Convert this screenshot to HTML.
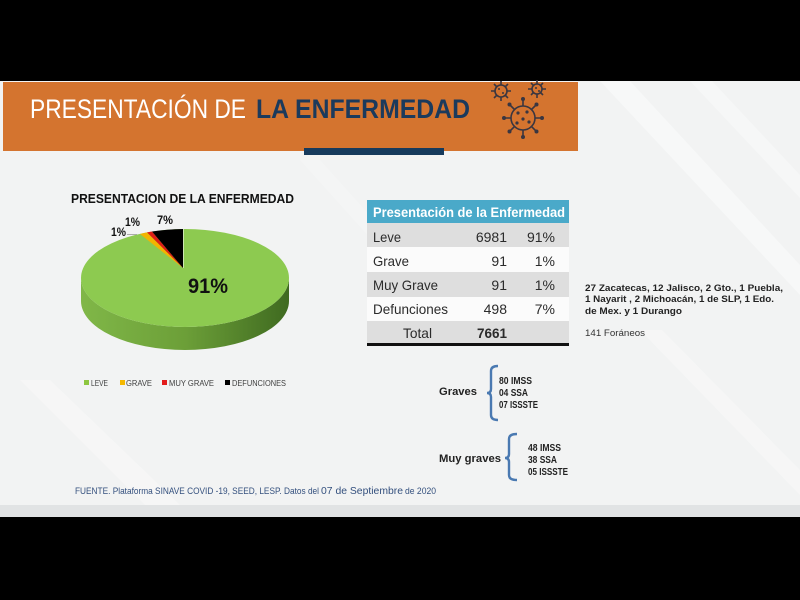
<!DOCTYPE html>
<html><head><meta charset="utf-8"><style>
html,body{margin:0;padding:0;background:#000;}
svg{display:block;}
text{font-family:"Liberation Sans",sans-serif;}
.n{font-family:"Liberation Sans Narrow","Liberation Sans",sans-serif;}
</style></head><body>
<svg width="800" height="600" viewBox="0 0 800 600" xmlns="http://www.w3.org/2000/svg">
<defs>
<linearGradient id="side" x1="0" x2="1" y1="0" y2="0">
<stop offset="0" stop-color="#80b748"/>
<stop offset="0.5" stop-color="#6c9f38"/>
<stop offset="1" stop-color="#3f6a20"/>
</linearGradient>
</defs>
<rect x="0" y="0" width="800" height="600" fill="#000"/>
<rect x="0" y="81" width="800" height="424" fill="#f2f3f3"/>
<rect x="0" y="505" width="800" height="12" fill="#e1e3e4"/>
<polygon points="600,81 630,81 800,265 800,295" fill="#ffffff" opacity="0.4"/>
<polygon points="690,81 712,81 800,175 800,198" fill="#ffffff" opacity="0.35"/>
<polygon points="20,380 50,380 180,505 145,505" fill="#ffffff" opacity="0.3"/>
<polygon points="640,330 662,330 800,470 800,495" fill="#ffffff" opacity="0.3"/>
<polygon points="300,160 320,160 410,260 390,260" fill="#ffffff" opacity="0.2"/>
<rect x="3" y="82" width="575" height="69" fill="#d4742f"/>
<rect x="304" y="148" width="140" height="7" fill="#163a5c"/>
<text x="30" y="118" font-size="27" fill="#ffffff" class="n" textLength="216" lengthAdjust="spacingAndGlyphs">PRESENTACIÓN DE</text>
<text x="256" y="118" font-size="27" font-weight="bold" fill="#1b3a5c" class="n" textLength="214" lengthAdjust="spacingAndGlyphs">LA ENFERMEDAD</text>
<g stroke="#3a3640" stroke-width="1.6" fill="none">
<line x1="505" y1="118" x2="541" y2="118"/><line x1="523" y1="100" x2="523" y2="136"/>
<line x1="510" y1="105" x2="536" y2="131"/><line x1="510" y1="131" x2="536" y2="105"/>
<circle cx="523" cy="118" r="12" fill="#d4742f"/>
<line x1="491" y1="91" x2="511" y2="91"/><line x1="501" y1="81" x2="501" y2="101"/>
<line x1="494" y1="84" x2="508" y2="98"/><line x1="494" y1="98" x2="508" y2="84"/>
<circle cx="501" cy="91" r="6" fill="#d4742f"/>
<line x1="528" y1="89" x2="546" y2="89"/><line x1="537" y1="80" x2="537" y2="98"/>
<line x1="531" y1="83" x2="543" y2="95"/><line x1="531" y1="95" x2="543" y2="83"/>
<circle cx="537" cy="89" r="5" fill="#d4742f"/>
</g>
<g fill="#3a3640">
<circle cx="542" cy="118" r="2"/><circle cx="504" cy="118" r="2"/><circle cx="523" cy="137" r="2"/><circle cx="523" cy="99" r="2"/>
<circle cx="536.5" cy="131.5" r="2"/><circle cx="509.5" cy="131.5" r="2"/><circle cx="509.5" cy="104.5" r="2"/><circle cx="536.5" cy="104.5" r="2"/>
<circle cx="518" cy="113" r="1.6"/><circle cx="527" cy="112" r="1.6"/><circle cx="523" cy="119" r="1.6"/><circle cx="529" cy="122" r="1.6"/><circle cx="517" cy="123" r="1.6"/>
<circle cx="499" cy="89" r="1"/><circle cx="503" cy="93" r="1"/><circle cx="536" cy="88" r="1"/><circle cx="539" cy="91" r="1"/>
</g>
<text x="71" y="203" font-size="12.5" font-weight="bold" fill="#111" textLength="223" lengthAdjust="spacingAndGlyphs">PRESENTACION DE LA ENFERMEDAD</text>
<path d="M81,278 L81,301 A104,49 0 0 0 289,301 L289,278 A104,49 0 0 1 81,278 Z" fill="url(#side)"/>
<ellipse cx="185" cy="278" rx="104" ry="49" fill="#8dca50"/>
<path d="M183,268 L147,232.4 A104,49 0 0 0 140,234 Z" fill="#f3b400"/>
<path d="M183,268 L152,231.5 A104,49 0 0 0 147,232.4 Z" fill="#dc1f17"/>
<path d="M183,268 L183,229 A104,49 0 0 0 152,231.5 Z" fill="#000"/>
<line x1="183.5" y1="229" x2="183.5" y2="268" stroke="#ffffff" stroke-width="0.8" opacity="0.7"/>
<text x="188" y="293" font-size="21" font-weight="bold" fill="#111" textLength="40" lengthAdjust="spacingAndGlyphs">91%</text>
<text x="157" y="224" font-size="11.5" font-weight="bold" fill="#111" textLength="16" lengthAdjust="spacingAndGlyphs">7%</text>
<text x="125" y="226" font-size="11.5" font-weight="bold" fill="#111" textLength="15" lengthAdjust="spacingAndGlyphs">1%</text>
<text x="111" y="236" font-size="11.5" font-weight="bold" fill="#111" textLength="15" lengthAdjust="spacingAndGlyphs">1%</text>
<line x1="127" y1="234.5" x2="137" y2="234.5" stroke="#999" stroke-width="0.8"/>
<rect x="84" y="380" width="5" height="5" fill="#8dc63f"/>
<text x="91" y="386" font-size="8" fill="#404040" textLength="17" lengthAdjust="spacingAndGlyphs">LEVE</text>
<rect x="120" y="380" width="5" height="5" fill="#f5b800"/>
<text x="126" y="386" font-size="8" fill="#404040" textLength="26" lengthAdjust="spacingAndGlyphs">GRAVE</text>
<rect x="162" y="380" width="5" height="5" fill="#e31c1c"/>
<text x="169" y="386" font-size="8" fill="#404040" textLength="45" lengthAdjust="spacingAndGlyphs">MUY GRAVE</text>
<rect x="225" y="380" width="5" height="5" fill="#000"/>
<text x="232" y="386" font-size="8" fill="#404040" textLength="54" lengthAdjust="spacingAndGlyphs">DEFUNCIONES</text>
<rect x="367" y="200" width="202" height="23" fill="#4aa9c9"/>
<rect x="367" y="223" width="202" height="24" fill="#dedede"/>
<rect x="367" y="247" width="202" height="25" fill="#fbfbfb"/>
<rect x="367" y="272" width="202" height="25" fill="#dedede"/>
<rect x="367" y="297" width="202" height="24" fill="#fbfbfb"/>
<rect x="367" y="321" width="202" height="22" fill="#dedede"/>
<rect x="367" y="343" width="202" height="3" fill="#111"/>
<text x="373" y="217" font-size="13.5" font-weight="bold" fill="#ffffff" textLength="192" lengthAdjust="spacingAndGlyphs">Presentación de la Enfermedad</text>
<g font-size="14" fill="#2b2b2b">
<text x="373" y="242" textLength="28" lengthAdjust="spacingAndGlyphs">Leve</text>
<text x="507" y="242" text-anchor="end">6981</text>
<text x="555" y="242" text-anchor="end">91%</text>
<text x="373" y="266" textLength="36" lengthAdjust="spacingAndGlyphs">Grave</text>
<text x="507" y="266" text-anchor="end">91</text>
<text x="555" y="266" text-anchor="end">1%</text>
<text x="373" y="290" textLength="65" lengthAdjust="spacingAndGlyphs">Muy Grave</text>
<text x="507" y="290" text-anchor="end">91</text>
<text x="555" y="290" text-anchor="end">1%</text>
<text x="373" y="314" textLength="75" lengthAdjust="spacingAndGlyphs">Defunciones</text>
<text x="507" y="314" text-anchor="end">498</text>
<text x="555" y="314" text-anchor="end">7%</text>
<text x="403" y="338" textLength="29" lengthAdjust="spacingAndGlyphs">Total</text>
<text x="477" y="338" font-weight="bold" textLength="30" lengthAdjust="spacingAndGlyphs">7661</text>
</g>
<g font-size="9.5" font-weight="bold" fill="#222">
<text x="585" y="291" textLength="198" lengthAdjust="spacingAndGlyphs">27 Zacatecas, 12 Jalisco, 2 Gto., 1 Puebla,</text>
<text x="585" y="302" textLength="189" lengthAdjust="spacingAndGlyphs">1 Nayarit , 2 Michoacán, 1 de SLP, 1 Edo.</text>
<text x="585" y="314" textLength="97" lengthAdjust="spacingAndGlyphs">de Mex. y 1 Durango</text>
</g>
<text x="585" y="336" font-size="9.5" fill="#333" textLength="60" lengthAdjust="spacingAndGlyphs">141 Foráneos</text>
<text x="439" y="395" font-size="11" font-weight="bold" fill="#222" textLength="38" lengthAdjust="spacingAndGlyphs">Graves</text>
<path d="M498,366 Q491,366 491,371 L491,389 Q491,393 487,393 Q491,393 491,397 L491,415 Q491,420 498,420" stroke="#4a79b1" stroke-width="2.4" fill="none"/>
<g font-size="10" font-weight="bold" fill="#222" class="n">
<text x="499" y="384" textLength="33" lengthAdjust="spacingAndGlyphs">80 IMSS</text>
<text x="499" y="396" textLength="29" lengthAdjust="spacingAndGlyphs">04 SSA</text>
<text x="499" y="408" textLength="39" lengthAdjust="spacingAndGlyphs">07 ISSSTE</text>
</g>
<text x="439" y="462" font-size="11" font-weight="bold" fill="#222" textLength="62" lengthAdjust="spacingAndGlyphs">Muy graves</text>
<path d="M517,434 Q509,434 509,439 L509,454 Q509,458 505,458 Q509,458 509,462 L509,475 Q509,480 517,480" stroke="#4a79b1" stroke-width="2.4" fill="none"/>
<g font-size="10" font-weight="bold" fill="#222" class="n">
<text x="528" y="451" textLength="33" lengthAdjust="spacingAndGlyphs">48 IMSS</text>
<text x="528" y="463" textLength="29" lengthAdjust="spacingAndGlyphs">38 SSA</text>
<text x="528" y="475" textLength="40" lengthAdjust="spacingAndGlyphs">05 ISSSTE</text>
</g>
<text x="75" y="494" font-size="9.5" fill="#34507e" class="n" textLength="244" lengthAdjust="spacingAndGlyphs">FUENTE. Plataforma SINAVE COVID -19, SEED, LESP. Datos del</text>
<text x="321" y="494" font-size="10.5" fill="#34507e" textLength="82" lengthAdjust="spacingAndGlyphs">07 de Septiembre</text>
<text x="405" y="494" font-size="9.5" fill="#34507e" class="n" textLength="31" lengthAdjust="spacingAndGlyphs">de 2020</text>
</svg>
</body></html>
